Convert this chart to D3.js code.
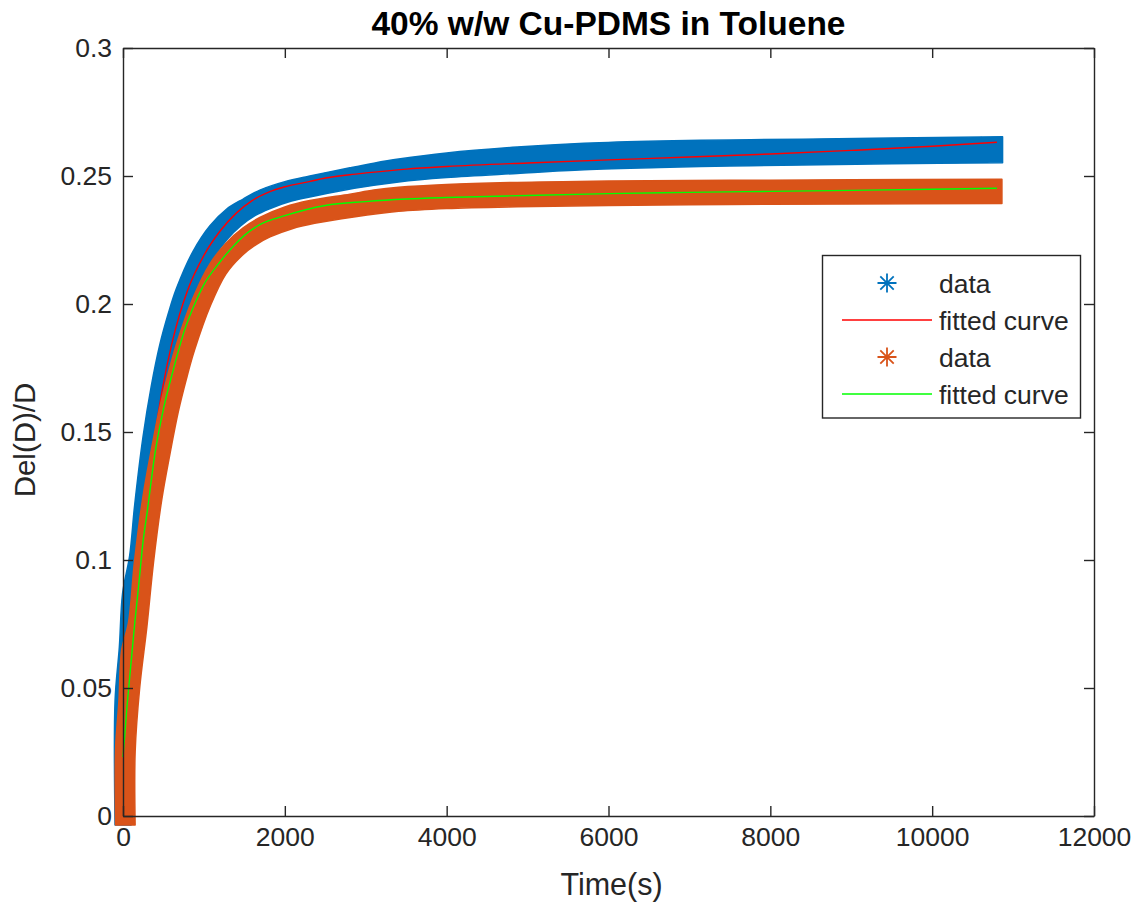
<!DOCTYPE html>
<html><head><meta charset="utf-8">
<script src="https://cdn.jsdelivr.net/npm/d3@7"></script>
<style>
body{margin:0;background:#fff}
svg{display:block}
text{font-family:"Liberation Sans",Arial,Helvetica,sans-serif;fill:#262626}
</style>
</head><body>
<svg id="chart" width="1138" height="915"></svg>
<script>
// ---------- data ----------
const titleText = "40% w/w Cu-PDMS in Toluene";
const xLabel = "Time(s)";
const yLabel = "Del(D)/D";
const xTicks = [0, 2000, 4000, 6000, 8000, 10000, 12000];
const yTicks = [0, 0.05, 0.1, 0.15, 0.2, 0.25, 0.3];
const yTickLabels = ["0", "0.05", "0.1", "0.15", "0.2", "0.25", "0.3"];
const legendNames = ["data", "fitted curve", "data", "fitted curve"];

// outline of the dense blue "*" data cloud: upper-left edge and lower-right edge [time, value]
const blueUpper = [[-98,-0.0035],[-98,0.045],[-45,0.066],[-5,0.087],[82,0.1016],[144,0.1214],[247,0.148],[350,0.168],[454,0.184],[557,0.196],[660,0.206],[866,0.2206],[1072,0.2305],[1278,0.237],[1485,0.241],[1691,0.2445],[2000,0.2478],[2309,0.2500],[2804,0.2532],[3100,0.2550],[3406,0.2566],[4000,0.2590],[4870,0.2613],[5700,0.2628],[6630,0.2637],[7500,0.2641],[8390,0.2644],[9500,0.2648],[10870,0.2653]];
const blueLower = [[100,-0.0035],[100,0.03],[206,0.062],[296,0.09],[390,0.1205],[492,0.1469],[593,0.1666],[694,0.1822],[794,0.1938],[891,0.2032],[1094,0.2167],[1283,0.2251],[1453,0.2305],[1631,0.2345],[1812,0.2372],[2083,0.2402],[2368,0.2422],[2858,0.2452],[3406,0.2477],[4000,0.2494],[4870,0.2510],[5700,0.2524],[6630,0.2533],[7500,0.2539],[8390,0.2543],[9500,0.2548],[10870,0.2552]];
// outline of the dense orange "*" data cloud
const orangeUpper = [[-92,-0.0035],[-92,0.026],[-50,0.045],[-16,0.065],[65,0.075],[144,0.100],[247,0.1248],[350,0.143],[454,0.1595],[557,0.1727],[660,0.1842],[866,0.2024],[1072,0.2156],[1278,0.2239],[1485,0.2297],[1691,0.2338],[2000,0.2379],[2309,0.2404],[2804,0.2429],[3100,0.2445],[3406,0.2456],[4000,0.2467],[4870,0.2475],[6000,0.2480],[7500,0.2483],[9000,0.2485],[10862,0.2487]];
const orangeLower = [[150,-0.0035],[150,0.025],[206,0.050],[296,0.0742],[377,0.0991],[479,0.1236],[581,0.1416],[683,0.1579],[784,0.1708],[883,0.1819],[1082,0.1995],[1271,0.2117],[1459,0.2186],[1641,0.2231],[1817,0.2262],[2090,0.2294],[2368,0.2315],[2850,0.2340],[3406,0.2362],[4000,0.2373],[4870,0.2380],[6000,0.2385],[7500,0.2389],[9000,0.2391],[10862,0.2393]];
// fitted curves [time, value]
const redFit = [[0,0.018],[50,0.042],[100,0.063],[150,0.082],[200,0.099],[300,0.127],[400,0.150],[500,0.169],[600,0.184],[700,0.196],[800,0.2055],[1000,0.219],[1200,0.2285],[1400,0.2355],[1600,0.2405],[1800,0.2437],[2000,0.2458],[2300,0.2478],[2500,0.2492],[2800,0.2505],[3000,0.2512],[3500,0.2527],[4000,0.2537],[5000,0.2551],[6000,0.2563],[7000,0.2574],[8000,0.2586],[9000,0.2600],[10000,0.2616],[10800,0.2632]];
const greenFit = [[0,0.023],[50,0.043],[100,0.060],[144,0.075],[200,0.092],[247,0.107],[300,0.119],[392,0.141],[500,0.159],[619,0.174],[763,0.190],[900,0.201],[990,0.207],[1200,0.2165],[1361,0.2225],[1500,0.2268],[1691,0.231],[2000,0.2345],[2500,0.2385],[3000,0.2400],[3500,0.2410],[4000,0.2416],[5000,0.2424],[6000,0.2431],[7000,0.2436],[8000,0.2440],[9000,0.2444],[10000,0.2448],[10800,0.2452]];

// ---------- drawing ----------
const blue = "#0072BD", orange = "#D95319", red = "#FF0000", green = "#00FF00";
const svg = d3.select("#chart");
const L = 123, R = 1094, T = 48, B = 816;
const x = d3.scaleLinear().domain([0, 12000]).range([L, R]);
const y = d3.scaleLinear().domain([0, 0.3]).range([B, T]);

svg.append("rect").attr("width", 1138).attr("height", 915).attr("fill", "#fff");

const edge = d3.line().x(d => x(d[0])).y(d => y(d[1])).curve(d3.curveCatmullRom.alpha(0.5));
const fitLine = d3.line().x(d => x(d[0])).y(d => y(d[1])).curve(d3.curveMonotoneX);

function band(upper, lower, color) {
  const d = edge(upper) + "L" + edge(lower.slice().reverse()).slice(1) + "Z";
  svg.append("path").attr("d", d)
    .attr("fill", color).attr("stroke", color).attr("stroke-width", 1.5)
    .attr("stroke-linejoin", "round");
}
band(blueUpper, blueLower, blue);
svg.append("path").attr("d", fitLine(redFit)).attr("fill", "none").attr("stroke", red).attr("stroke-width", 1.4);
band(orangeUpper, orangeLower, orange);
svg.append("path").attr("d", fitLine(greenFit)).attr("fill", "none").attr("stroke", green).attr("stroke-width", 1.4);

// axes (box with inward ticks)
const axisColor = "#262626";
const gB = svg.append("g").attr("transform", `translate(0,${B})`)
  .call(d3.axisBottom(x).tickValues(xTicks).tickFormat(d3.format("d")).tickSizeInner(-10).tickSizeOuter(0).tickPadding(11));
const gT = svg.append("g").attr("transform", `translate(0,${T})`)
  .call(d3.axisTop(x).tickValues(xTicks).tickFormat("").tickSizeInner(-10).tickSizeOuter(0));
const gL = svg.append("g").attr("transform", `translate(${L},0)`)
  .call(d3.axisLeft(y).tickValues(yTicks).tickFormat((d, i) => yTickLabels[i]).tickSizeInner(-10).tickSizeOuter(0).tickPadding(11));
const gR = svg.append("g").attr("transform", `translate(${R},0)`)
  .call(d3.axisRight(y).tickValues(yTicks).tickFormat("").tickSizeInner(-10).tickSizeOuter(0));
[gB, gT, gL, gR].forEach(g => {
  g.select(".domain").attr("stroke", axisColor).attr("stroke-width", 1.4);
  g.selectAll(".tick line").attr("stroke", axisColor).attr("stroke-width", 1.4);
  g.selectAll(".tick text").attr("font-size", 26.5).attr("fill", axisColor)
    .style("font-family", '"Liberation Sans", Arial, sans-serif');
});

// title and labels
svg.append("text").attr("x", (L + R) / 2).attr("y", 35).attr("text-anchor", "middle")
  .attr("font-size", 33.5).attr("font-weight", "bold").style("fill", "#000").text(titleText);
svg.append("text").attr("x", (L + R) / 2 + 3).attr("y", 895).attr("text-anchor", "middle")
  .attr("font-size", 30.5).text(xLabel);
svg.append("text").attr("transform", `translate(35,${(T + B) / 2 + 8}) rotate(-90)`).attr("text-anchor", "middle")
  .attr("font-size", 29.5).text(yLabel);

// legend
function asterisk(cx, cy, r) {
  const k = r * Math.SQRT1_2;
  return `M${cx - r},${cy}H${cx + r}M${cx},${cy - r}V${cy + r}M${cx - k},${cy - k}L${cx + k},${cy + k}M${cx - k},${cy + k}L${cx + k},${cy - k}`;
}
const lg = svg.append("g");
lg.append("rect").attr("x", 822.5).attr("y", 255.5).attr("width", 258).attr("height", 162.5)
  .attr("fill", "#fff").attr("stroke", axisColor).attr("stroke-width", 1.4);
const rowY = [283, 320, 357, 394];
const legendKinds = [["marker", blue], ["line", red], ["marker", orange], ["line", green]];
legendKinds.forEach((k, i) => {
  if (k[0] === "marker") {
    lg.append("path").attr("d", asterisk(887, rowY[i], 9.5)).attr("stroke", k[1]).attr("stroke-width", 1.8).attr("fill", "none");
  } else {
    lg.append("line").attr("x1", 842).attr("x2", 932).attr("y1", rowY[i]).attr("y2", rowY[i]).attr("stroke", k[1]).attr("stroke-width", 1.5);
  }
  lg.append("text").attr("x", 939).attr("y", rowY[i]).attr("dy", "0.36em").attr("font-size", 26.5).text(legendNames[i]);
});
</script>
</body></html>
